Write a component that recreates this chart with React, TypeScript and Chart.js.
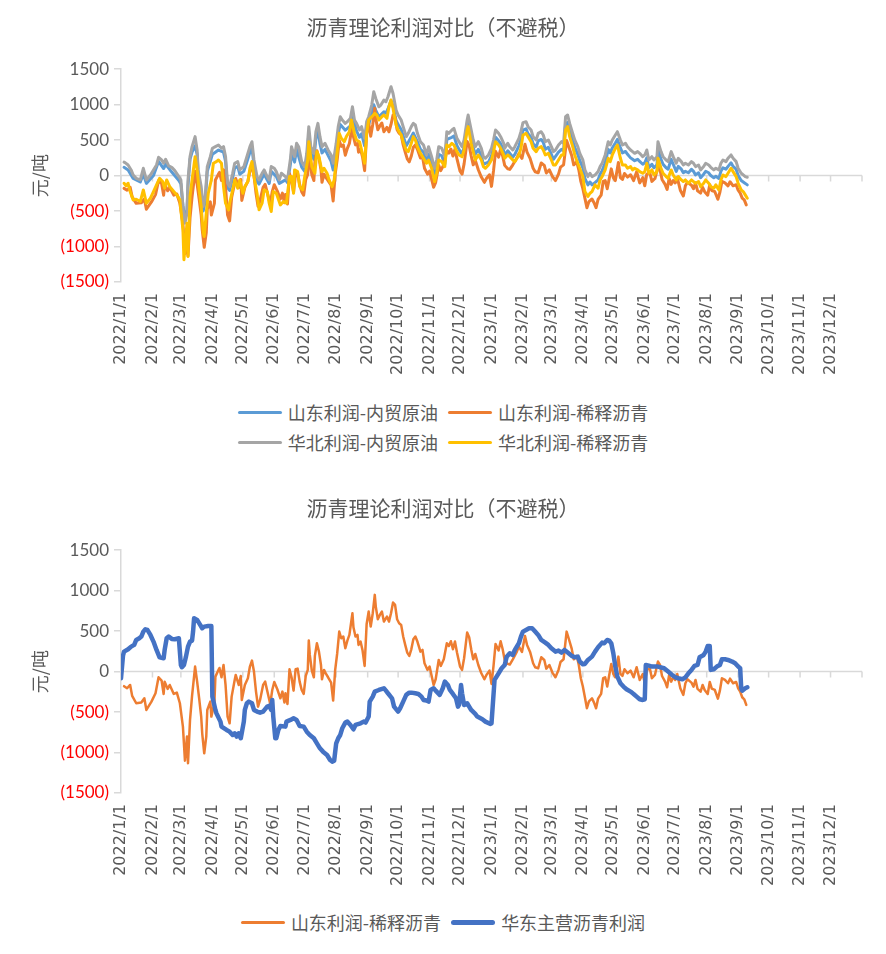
import React, { useEffect, useRef } from "react";
import { Chart, registerables } from "chart.js";

Chart.register(...registerables);

// ---- axis setup (x values are day offsets counted from 2022/1/1) ----
const MONTH_TICKS = [0, 31, 59, 90, 120, 151, 181, 212, 243, 273, 304, 334, 365, 396, 424, 455, 485, 516, 546, 577, 608, 638, 669, 699];
const MONTH_LABELS = [
  "2022/1/1", "2022/2/1", "2022/3/1", "2022/4/1", "2022/5/1", "2022/6/1", "2022/7/1", "2022/8/1", "2022/9/1", "2022/10/1", "2022/11/1", "2022/12/1",
  "2023/1/1", "2023/2/1", "2023/3/1", "2023/4/1", "2023/5/1", "2023/6/1", "2023/7/1", "2023/8/1", "2023/9/1", "2023/10/1", "2023/11/1", "2023/12/1",
];
const AXIS_END = 730;
const Y_MIN = -1500;
const Y_MAX = 1500;
const Y_STEP = 500;

const TITLE = "沥青理论利润对比（不避税）";
const Y_TITLE = "元/吨";

// ---- 山东利润-内贸原油 ----
const SD_CRUDE_DAYS = [3, 7, 12, 19, 22, 25, 32, 37, 42, 44, 50, 57, 59, 61, 63, 65, 66, 68, 70, 73, 75, 76, 79, 81, 83, 85, 88, 90, 93, 96, 101, 103, 105, 107, 110, 112, 115, 117, 121, 124, 127, 129, 131, 134, 136, 141, 146, 148, 153, 156, 162, 164, 167, 168, 171, 173, 178, 181, 183, 185, 187, 190, 192, 194, 196, 198, 201, 207, 209, 212, 214, 216, 221, 226, 228, 232, 235, 237, 240, 242, 244, 247, 249, 251, 254, 259, 261, 263, 266, 268, 271, 273, 276, 278, 281, 283, 288, 292, 295, 298, 301, 303, 306, 309, 311, 313, 316, 319, 321, 326, 328, 331, 333, 336, 338, 341, 342, 345, 347, 349, 352, 355, 357, 362, 365, 367, 369, 372, 374, 377, 378, 381, 386, 388, 392, 394, 396, 399, 401, 404, 406, 409, 411, 414, 416, 418, 421, 424, 426, 431, 434, 436, 438, 440, 442, 445, 447, 450, 452, 455, 457, 460, 462, 464, 467, 470, 472, 474, 477, 480, 482, 484, 487, 489, 492, 494, 497, 499, 502, 504, 506, 509, 511, 514, 516, 518, 520, 523, 525, 528, 529, 532, 534, 537, 539, 542, 544, 547, 549, 552, 554, 556, 559, 562, 564, 566, 569, 571, 574, 576, 579, 581, 584, 586, 589, 591, 593, 596, 598, 601, 603, 606, 608, 611, 613, 615, 617];
const SD_CRUDE = [117, 80, -40, -90, 20, -110, 0, 200, 100, 160, 50, -70, -120, -420, -620, -480, -150, 230, 330, 420, 300, 20, -230, -500, -360, 60, 200, 300, 330, 360, 330, 200, -170, -210, -30, 110, 130, 20, 60, 190, 330, 390, 150, -80, -120, 20, -110, 60, -10, -110, -60, -100, 170, 320, 190, 370, 120, 60, 230, 590, 320, 230, 520, 640, 450, 320, 370, 200, 80, 360, 590, 720, 640, 700, 860, 630, 540, 590, 420, 650, 720, 870, 1000, 920, 830, 900, 880, 940, 1060, 980, 780, 720, 650, 560, 420, 470, 600, 480, 370, 330, 190, 300, 170, 0, 110, 300, 280, 160, 510, 540, 560, 420, 370, 300, 400, 680, 750, 540, 400, 300, 370, 280, 160, 190, 280, 400, 540, 490, 450, 350, 280, 350, 260, 300, 420, 510, 640, 660, 590, 540, 450, 400, 490, 510, 470, 370, 400, 300, 230, 330, 370, 350, 730, 750, 630, 490, 400, 300, 210, 110, -40, -130, -90, -130, -100, -60, 20, 70, 180, 370, 320, 390, 460, 510, 390, 320, 340, 300, 250, 230, 210, 230, 200, 160, 180, 250, 110, 160, 110, 150, 370, 230, 160, 110, 90, 230, 160, 60, 130, 90, 40, 60, 40, 90, 60, 10, 40, -30, 20, 60, 40, 0, -30, -10, -40, 60, 110, 90, 130, 180, 130, 90, 0, -70, -90, -110, -131];

// ---- 山东利润-稀释沥青 ----
const SD_DILUTED_DAYS = [3, 6, 9, 11, 15, 20, 23, 25, 30, 34, 37, 40, 42, 43, 46, 48, 52, 55, 58, 61, 63, 65, 66, 68, 70, 73, 75, 77, 79, 80, 82, 84, 85, 88, 89, 92, 93, 96, 97, 99, 101, 103, 105, 107, 109, 112, 113, 116, 118, 119, 122, 125, 127, 129, 131, 133, 135, 137, 140, 142, 145, 147, 149, 151, 154, 157, 159, 161, 162, 164, 166, 168, 170, 172, 174, 176, 178, 180, 182, 184, 185, 186, 188, 190, 191, 193, 195, 197, 198, 200, 202, 204, 207, 209, 211, 213, 215, 217, 219, 221, 223, 225, 228, 229, 231, 233, 234, 236, 238, 240, 242, 244, 246, 248, 250, 251, 253, 255, 257, 259, 262, 264, 266, 268, 270, 272, 274, 276, 278, 280, 282, 284, 286, 288, 290, 292, 295, 297, 299, 302, 304, 308, 310, 313, 315, 318, 321, 323, 325, 327, 329, 331, 334, 336, 338, 341, 343, 345, 347, 349, 352, 355, 358, 360, 363, 365, 367, 369, 372, 374, 376, 378, 381, 383, 386, 390, 392, 395, 398, 400, 403, 406, 408, 411, 414, 417, 419, 422, 425, 428, 431, 433, 436, 439, 441, 444, 446, 449, 451, 453, 455, 457, 459, 461, 464, 466, 468, 470, 473, 475, 477, 479, 481, 483, 485, 487, 490, 492, 494, 496, 499, 502, 505, 508, 511, 514, 516, 518, 521, 523, 526, 529, 531, 533, 536, 538, 540, 542, 544, 546, 548, 551, 554, 556, 558, 562, 564, 566, 568, 571, 573, 575, 578, 580, 582, 585, 588, 590, 592, 595, 598, 600, 603, 606, 608, 610, 612, 614, 616];
const SD_DILUTED = [-180, -206, -165, -300, -391, -383, -330, -474, -371, -268, -70, -111, -276, -124, -214, -165, -276, -260, -391, -680, -1100, -803, -1133, -597, -300, 62, -124, -330, -556, -762, -1010, -803, -474, -371, -556, -391, -62, 21, 45, -70, 82, -165, -556, -639, -309, -103, -41, -165, -54, -350, -165, -82, 62, 136, 0, -247, -433, -350, -165, -124, -288, -400, -227, -128, -218, -330, -247, -383, -268, -400, 29, -70, -235, 29, 37, -124, -227, -276, -54, 21, 383, 206, 12, -70, 194, 350, 247, 82, -95, 21, -29, -70, -136, -358, 21, 227, 494, 412, 433, 288, 383, 453, 721, 548, 433, 453, 330, 371, 260, 70, 589, 742, 556, 721, 948, 803, 647, 700, 742, 618, 680, 618, 721, 853, 824, 647, 597, 577, 433, 330, 235, 194, 276, 400, 433, 371, 247, 268, 103, 21, 62, -165, -95, 144, 70, 152, 350, 317, 375, 276, 371, 235, 62, 21, 165, 482, 424, 276, 152, 218, 82, -21, -95, -41, 12, -152, 70, 342, 260, 375, 276, 144, 95, 87, 152, 247, 309, 243, 441, 330, 243, 103, 54, 41, 177, 144, 37, 82, -12, -70, 21, 119, 152, 494, 412, 284, 152, 194, 82, -82, -185, -317, -453, -367, -330, -383, -453, -334, -276, -82, -70, -185, -41, 95, -29, -70, 185, -29, -54, 29, -21, 12, -70, 54, -103, -29, -144, 21, 37, -82, -41, 124, 82, -54, -124, -194, -41, -124, -70, -103, -29, -206, -288, -144, -95, -136, -185, -103, -214, -247, -165, -227, -276, -128, -210, -227, -334, -235, -82, -103, -144, -87, -144, -128, -206, -247, -317, -342, -412];

// ---- 华北利润-内贸原油 ----
const NC_CRUDE_DAYS = [3, 4, 7, 10, 12, 15, 19, 22, 25, 29, 32, 35, 37, 40, 42, 44, 47, 50, 53, 57, 59, 61, 63, 65, 66, 68, 70, 73, 75, 76, 79, 81, 83, 85, 88, 90, 93, 96, 99, 101, 103, 105, 107, 110, 112, 115, 117, 121, 124, 127, 129, 131, 134, 136, 139, 141, 144, 146, 148, 151, 153, 156, 158, 162, 164, 167, 168, 171, 173, 175, 178, 181, 183, 185, 187, 190, 192, 194, 196, 198, 201, 204, 207, 209, 212, 214, 216, 218, 221, 223, 226, 228, 230, 232, 235, 237, 240, 242, 244, 247, 249, 251, 254, 256, 259, 261, 263, 266, 268, 271, 273, 276, 278, 281, 283, 286, 288, 290, 292, 295, 298, 301, 303, 306, 309, 311, 313, 316, 319, 321, 323, 326, 328, 331, 333, 336, 338, 341, 342, 345, 347, 349, 352, 355, 357, 359, 362, 365, 367, 369, 372, 374, 377, 378, 381, 383, 386, 388, 392, 394, 396, 399, 401, 404, 406, 409, 411, 414, 416, 418, 421, 424, 426, 428, 431, 434, 436, 438, 440, 442, 445, 447, 450, 452, 455, 457, 460, 462, 464, 467, 470, 472, 474, 477, 480, 482, 484, 487, 489, 492, 494, 497, 499, 502, 504, 506, 509, 511, 514, 516, 518, 520, 523, 525, 528, 529, 532, 534, 537, 539, 542, 544, 547, 549, 552, 554, 556, 559, 562, 564, 566, 569, 571, 574, 576, 579, 581, 584, 586, 589, 591, 593, 596, 598, 601, 603, 606, 608, 611, 613, 615, 617];
const NC_CRUDE = [190, 183, 150, 80, 9, -38, -61, 103, -61, 9, 80, 150, 258, 220, 174, 230, 136, 117, 70, -14, -61, -436, -670, -530, -61, 267, 408, 549, 361, 80, -155, -436, -295, 127, 267, 385, 408, 431, 385, 408, 267, -108, -155, 33, 174, 197, 80, 127, 267, 408, 478, 220, -14, -61, 33, 80, -14, -61, 127, 103, 56, -61, 33, -14, -61, 244, 408, 267, 455, 408, 197, 127, 314, 690, 408, 314, 619, 736, 549, 408, 455, 361, 291, 174, 455, 690, 830, 783, 736, 760, 807, 971, 783, 736, 643, 690, 525, 760, 830, 994, 1182, 1088, 971, 994, 1065, 1041, 1112, 1252, 1158, 924, 854, 783, 690, 549, 596, 690, 736, 713, 596, 478, 431, 291, 408, 267, 103, 220, 408, 385, 267, 619, 596, 643, 666, 525, 478, 408, 502, 783, 854, 643, 502, 408, 478, 385, 267, 244, 291, 385, 502, 643, 596, 549, 455, 385, 455, 408, 361, 408, 525, 619, 746, 760, 690, 643, 549, 502, 596, 619, 572, 478, 502, 408, 338, 361, 431, 478, 455, 830, 854, 736, 596, 502, 408, 314, 220, 80, -14, 33, -14, 9, 56, 127, 174, 291, 478, 431, 502, 572, 619, 502, 431, 455, 408, 361, 338, 314, 338, 314, 267, 291, 361, 220, 267, 220, 267, 478, 338, 267, 220, 197, 338, 267, 174, 244, 197, 150, 174, 150, 197, 174, 127, 150, 80, 127, 174, 150, 117, 80, 103, 80, 174, 220, 197, 244, 291, 244, 197, 103, 33, 9, -14, -23];

// ---- 华北利润-稀释沥青 ----
const NC_DILUTED_DAYS = [3, 5, 7, 9, 12, 15, 19, 22, 25, 29, 32, 35, 38, 41, 43, 45, 48, 52, 55, 58, 61, 62, 65, 66, 68, 70, 73, 75, 77, 79, 81, 82, 84, 86, 89, 91, 94, 96, 99, 101, 103, 106, 107, 110, 112, 115, 117, 120, 122, 125, 127, 129, 131, 134, 136, 139, 141, 144, 146, 148, 150, 153, 157, 160, 163, 166, 168, 170, 171, 174, 176, 179, 181, 184, 185, 188, 191, 193, 195, 198, 200, 203, 205, 208, 210, 213, 215, 217, 220, 222, 225, 227, 230, 232, 235, 237, 240, 242, 244, 247, 250, 252, 254, 257, 259, 262, 264, 266, 268, 271, 273, 276, 278, 281, 283, 286, 288, 290, 292, 295, 298, 301, 303, 306, 309, 311, 313, 316, 319, 321, 323, 326, 328, 331, 333, 336, 338, 341, 342, 345, 347, 349, 352, 355, 357, 359, 362, 365, 367, 369, 372, 374, 377, 378, 381, 383, 386, 388, 392, 394, 396, 399, 401, 404, 406, 409, 411, 414, 416, 418, 421, 424, 426, 428, 431, 434, 436, 438, 440, 442, 445, 447, 450, 452, 455, 457, 460, 462, 464, 467, 470, 472, 474, 477, 480, 482, 484, 487, 489, 492, 494, 497, 499, 502, 504, 506, 509, 511, 514, 516, 518, 520, 523, 525, 528, 529, 532, 534, 537, 539, 542, 544, 547, 549, 552, 554, 556, 559, 562, 564, 566, 569, 571, 574, 576, 579, 581, 584, 586, 589, 591, 593, 596, 598, 601, 603, 606, 608, 611, 613, 615, 617];
const NC_DILUTED = [-108, -145, -108, -225, -342, -333, -366, -202, -389, -319, -225, -131, -38, -84, -178, -61, -155, -225, -272, -342, -764, -1187, -671, -1140, -295, -61, 267, 80, -202, -436, -811, -858, -530, -249, -61, 174, 197, 220, 174, -155, -389, -483, -389, -202, -61, -178, -61, -249, -155, -84, 103, 197, -14, -249, -483, -389, -202, -225, -389, -506, -225, -249, -413, -366, -389, -14, -14, -249, 80, 56, -155, -202, -14, 220, 478, 127, 33, 338, 267, 56, 103, 33, -61, -155, -61, 338, 596, 525, 478, 549, 619, 783, 596, 502, 478, 361, 174, 596, 783, 830, 877, 854, 783, 830, 854, 807, 971, 1065, 947, 713, 643, 572, 478, 361, 338, 455, 549, 502, 408, 314, 244, 174, 220, 103, -84, 33, 220, 197, 127, 431, 408, 455, 431, 338, 291, 267, 361, 643, 690, 455, 338, 220, 291, 220, 127, 103, 150, 220, 338, 478, 431, 385, 291, 244, 291, 267, 220, 197, 291, 385, 572, 596, 549, 478, 385, 338, 385, 408, 361, 291, 314, 220, 150, 150, 220, 291, 291, 643, 690, 549, 408, 291, 174, 103, -14, -225, -295, -249, -225, -131, -178, -61, -14, 80, 244, 197, 291, 385, 431, 244, 150, 150, 103, 127, 80, 103, 80, 56, 33, 56, 174, 33, 80, 9, 56, 244, 103, 33, -14, -38, 80, 9, -61, -14, -61, -84, -61, -108, -61, -84, -108, -84, -155, -108, -61, -108, -155, -178, -131, -202, -61, 9, -14, 33, 103, 56, -14, -108, -202, -225, -272, -319];

// ---- 华东主营沥青利润 ----
const EC_MAIN_DAYS = [0, 2, 3, 7, 10, 13, 15, 18, 20, 22, 24, 26, 29, 32, 35, 38, 42, 43, 45, 47, 50, 53, 57, 59, 60, 62, 64, 66, 68, 70, 71, 72, 75, 78, 80, 82, 86, 89, 90, 93, 94, 98, 99, 104, 107, 110, 112, 114, 116, 118, 121, 122, 124, 126, 129, 131, 134, 137, 140, 144, 146, 148, 149, 150, 152, 153, 155, 157, 162, 163, 167, 170, 173, 176, 180, 183, 186, 190, 193, 196, 199, 203, 206, 208, 210, 212, 214, 216, 218, 221, 223, 226, 229, 231, 236, 239, 241, 244, 245, 248, 250, 254, 259, 261, 263, 267, 269, 273, 275, 278, 281, 284, 286, 290, 293, 296, 298, 301, 303, 305, 308, 310, 314, 317, 319, 322, 324, 327, 330, 332, 333, 335, 336, 338, 341, 343, 345, 349, 351, 356, 359, 364, 365, 368, 372, 375, 378, 380, 383, 386, 388, 392, 394, 396, 399, 402, 405, 408, 411, 414, 418, 421, 424, 428, 431, 434, 437, 441, 444, 447, 450, 452, 455, 457, 460, 464, 467, 470, 474, 476, 479, 481, 483, 485, 487, 489, 492, 495, 498, 502, 505, 508, 511, 514, 516, 517, 520, 523, 529, 535, 539, 543, 546, 549, 553, 556, 559, 562, 565, 568, 570, 574, 576, 578, 580, 581, 584, 587, 590, 592, 595, 598, 602, 605, 608, 610, 611, 612, 615, 617];
const EC_MAIN = [-82, 200, 247, 276, 309, 330, 391, 412, 433, 494, 523, 515, 453, 371, 268, 177, 165, 268, 412, 433, 404, 400, 412, 82, 54, 82, 185, 309, 371, 383, 494, 659, 639, 577, 536, 556, 564, 564, -309, -474, -515, -618, -680, -721, -742, -783, -762, -803, -762, -824, -618, -474, -391, -371, -391, -474, -494, -507, -494, -433, -424, -474, -350, -556, -824, -824, -721, -672, -680, -618, -597, -577, -597, -672, -680, -742, -783, -824, -886, -948, -989, -1030, -1092, -1112, -1100, -886, -824, -783, -700, -630, -618, -659, -713, -659, -639, -618, -630, -556, -371, -309, -247, -227, -206, -235, -268, -330, -433, -494, -453, -371, -288, -260, -260, -268, -276, -309, -350, -358, -371, -227, -206, -235, -288, -206, -124, -165, -227, -276, -330, -433, -412, -165, -268, -412, -391, -433, -474, -523, -556, -589, -618, -647, -639, -103, -21, 41, 82, 185, 227, 206, 268, 350, 433, 494, 515, 536, 536, 494, 453, 391, 358, 330, 288, 247, 260, 235, 268, 227, 194, 177, 185, 124, 91, 95, 144, 185, 247, 300, 358, 350, 391, 383, 350, 227, 62, -62, -144, -185, -218, -247, -276, -309, -342, -350, -342, 82, 74, 62, 62, 41, 0, -41, -70, -82, -95, -70, -21, 21, 70, 82, 177, 206, 247, 317, 317, 21, 29, 62, 82, 152, 152, 144, 124, 103, 62, 41, -206, -235, -206, -194];

// ---- styling ----
const TEXT_COLOR = "#595959";
const NEG_COLOR = "#FF0000";
const AXIS_COLOR = "#D9D9D9";
const CJK_FONT = '"Noto Sans CJK SC", "Noto Sans", sans-serif';
const NUM_FONT = 'Lato, "Liberation Sans", sans-serif';
const DATE_FONT = '"DejaVu Sans", sans-serif';
const SIDE_PAD = 24;

type SeriesSpec = {
  label: string;
  days: number[];
  values: number[];
  color: string;
  width: number;
  order: number;
};

const TOP_SERIES: SeriesSpec[] = [
  { label: "山东利润-内贸原油", days: SD_CRUDE_DAYS, values: SD_CRUDE, color: "#5B9BD5", width: 3, order: 3 },
  { label: "山东利润-稀释沥青", days: SD_DILUTED_DAYS, values: SD_DILUTED, color: "#ED7D31", width: 3, order: 2 },
  { label: "华北利润-内贸原油", days: NC_CRUDE_DAYS, values: NC_CRUDE, color: "#A5A5A5", width: 3, order: 1 },
  { label: "华北利润-稀释沥青", days: NC_DILUTED_DAYS, values: NC_DILUTED, color: "#FFC000", width: 3, order: 0 },
];

const BOTTOM_SERIES: SeriesSpec[] = [
  { label: "山东利润-稀释沥青", days: SD_DILUTED_DAYS, values: SD_DILUTED, color: "#ED7D31", width: 2.5, order: 1 },
  { label: "华东主营沥青利润", days: EC_MAIN_DAYS, values: EC_MAIN, color: "#4472C4", width: 4.5, order: 0 },
];

// Horizontal axis line crossing at zero, with a tick mark at every month start.
const zeroAxisPlugin = {
  id: "zeroAxis",
  beforeDatasetsDraw(chart: any) {
    const { ctx, chartArea, scales } = chart;
    const y0 = scales.y.getPixelForValue(0);
    ctx.save();
    ctx.strokeStyle = AXIS_COLOR;
    ctx.lineWidth = 1.5;
    ctx.beginPath();
    ctx.moveTo(chartArea.left, y0);
    ctx.lineTo(chartArea.right, y0);
    for (const d of [...MONTH_TICKS, AXIS_END]) {
      const x = scales.x.getPixelForValue(d);
      ctx.moveTo(x, y0);
      ctx.lineTo(x, y0 + 6);
    }
    ctx.stroke();
    ctx.restore();
  },
};

function formatValue(v: number): string {
  return v < 0 ? `(${Math.abs(v)})` : `${v}`;
}

type PanelProps = {
  series: SeriesSpec[];
  height: number;
  titleTop: number;
  titleBottom: number;
};

function ChartPanel({ series, height, titleTop, titleBottom }: PanelProps) {
  const ref = useRef<HTMLCanvasElement | null>(null);

  useEffect(() => {
    if (!ref.current) return;
    const chart = new Chart(ref.current, {
      type: "line",
      data: {
        datasets: series.map((s) => ({
          label: s.label,
          data: s.days.map((d, i) => ({ x: d, y: s.values[i] })),
          borderColor: s.color,
          backgroundColor: s.color,
          borderWidth: s.width,
          pointRadius: 0,
          pointHoverRadius: 0,
          tension: 0,
          fill: false,
          order: s.order,
          borderJoinStyle: "round",
          borderCapStyle: "round",
        })),
      },
      options: {
        animation: false,
        responsive: false,
        maintainAspectRatio: false,
        layout: { padding: { left: SIDE_PAD, right: SIDE_PAD, top: 0, bottom: 0 } },
        plugins: {
          legend: { display: false },
          tooltip: { enabled: false },
          title: {
            display: true,
            text: TITLE,
            color: TEXT_COLOR,
            font: { family: CJK_FONT, size: 21, weight: "normal" },
            padding: { top: titleTop, bottom: titleBottom },
          },
        },
        scales: {
          x: {
            type: "linear",
            min: 0,
            max: AXIS_END,
            grid: { display: false, drawTicks: false },
            border: { display: false },
            afterBuildTicks: (scale: any) => {
              scale.ticks = MONTH_TICKS.map((v) => ({ value: v }));
            },
            afterFit: (scale: any) => {
              scale.height = 110;
            },
            ticks: {
              autoSkip: false,
              minRotation: 90,
              maxRotation: 90,
              padding: 11,
              color: TEXT_COLOR,
              font: { family: DATE_FONT, size: 16 },
              callback: (_v: any, i: number) => MONTH_LABELS[i],
            },
          },
          y: {
            min: Y_MIN,
            max: Y_MAX,
            afterFit: (scale: any) => {
              scale.width = 121 - SIDE_PAD;
            },
            grid: {
              drawOnChartArea: false,
              drawTicks: true,
              tickLength: 7,
              color: AXIS_COLOR,
              lineWidth: 1.5,
            },
            border: { display: true, color: AXIS_COLOR, width: 1.5 },
            ticks: {
              stepSize: Y_STEP,
              padding: 5,
              font: { family: NUM_FONT, size: 17 },
              color: (ctx: any) => (ctx.tick && ctx.tick.value < 0 ? NEG_COLOR : TEXT_COLOR),
              callback: (v: any) => formatValue(Number(v)),
            },
            title: {
              display: true,
              text: Y_TITLE,
              color: TEXT_COLOR,
              font: { family: CJK_FONT, size: 18 },
              padding: { top: 5, bottom: 0 },
            },
          },
        },
      },
      plugins: [zeroAxisPlugin],
    } as any);
    return () => chart.destroy();
  }, [series, height, titleTop, titleBottom]);

  return <canvas ref={ref} width={886} height={height} style={{ display: "block" }} />;
}

function Legend({ series, thick }: { series: SeriesSpec[]; thick: number[] }) {
  return (
    <div
      style={{
        display: "grid",
        gridTemplateColumns: "auto auto",
        columnGap: 10,
        justifyContent: "center",
        fontFamily: CJK_FONT,
        fontSize: 18,
        color: TEXT_COLOR,
      }}
    >
      {series.map((s, i) => (
        <div key={s.label + i} style={{ display: "flex", alignItems: "center", height: 30 }}>
          <span
            style={{
              display: "inline-block",
              width: 44,
              height: thick[i],
              background: s.color,
              borderRadius: thick[i] / 2,
              marginRight: 6,
            }}
          />
          <span style={{ whiteSpace: "nowrap" }}>{s.label}</span>
        </div>
      ))}
    </div>
  );
}

export default function App() {
  return (
    <div style={{ position: "absolute", left: 0, top: 0, width: 886, height: 954, background: "#fff" }}>
      <div style={{ position: "absolute", left: 0, top: 0 }}>
        <ChartPanel series={TOP_SERIES} height={392} titleTop={14} titleBottom={30} />
      </div>
      <div style={{ position: "absolute", left: 0, top: 397, width: 886 }}>
        <Legend series={TOP_SERIES} thick={[3, 3, 3, 3]} />
      </div>
      <div style={{ position: "absolute", left: 0, top: 477 }}>
        <ChartPanel series={BOTTOM_SERIES} height={426} titleTop={18} titleBottom={30} />
      </div>
      <div style={{ position: "absolute", left: 0, top: 907, width: 886 }}>
        <Legend series={BOTTOM_SERIES} thick={[3, 5]} />
      </div>
    </div>
  );
}
